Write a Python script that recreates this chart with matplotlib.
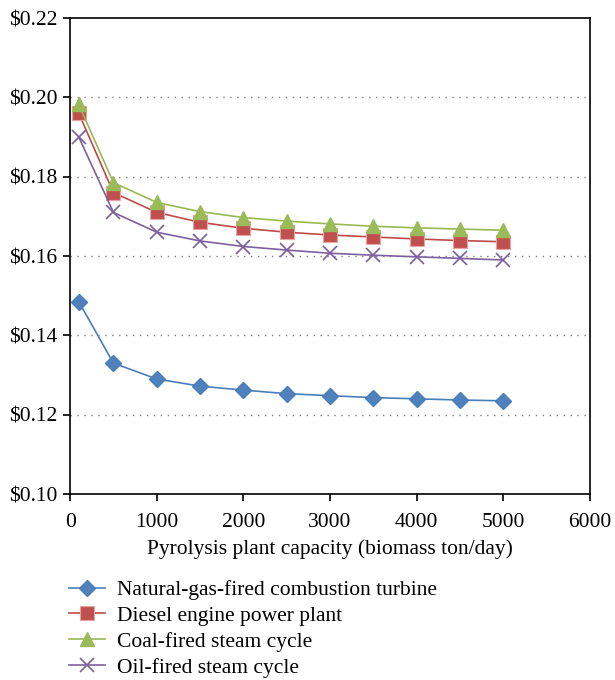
import matplotlib
matplotlib.use("Agg")
import matplotlib.pyplot as plt
from matplotlib import ticker

plt.rcParams['font.family'] = ['Liberation Serif', 'DejaVu Serif']

capacity = [100, 500, 1000, 1500, 2000, 2500, 3000, 3500, 4000, 4500, 5000]

natural_gas = [0.1485, 0.1330, 0.1290, 0.1272, 0.1262, 0.1253, 0.1248, 0.1243, 0.1240, 0.1237, 0.1235]
diesel = [0.1960, 0.1760, 0.1710, 0.1685, 0.1670, 0.1660, 0.1653, 0.1648, 0.1643, 0.1639, 0.1636]
coal = [0.1982, 0.1785, 0.1735, 0.1712, 0.1697, 0.1688, 0.1681, 0.1675, 0.1671, 0.1668, 0.1665]
oil = [0.1900, 0.1710, 0.1660, 0.1638, 0.1624, 0.1615, 0.1607, 0.1602, 0.1598, 0.1594, 0.1590]

labels = ['Natural-gas-fired combustion turbine', 'Diesel engine power plant',
          'Coal-fired steam cycle', 'Oil-fired steam cycle']

fig = plt.figure(figsize=(6.15, 6.8), dpi=100)
ax = fig.add_axes([0.114, 0.2735, 0.845, 0.7])

ax.plot(capacity, natural_gas, color='#4A7EBB', lw=1.2, marker='D', ms=8,
        mfc='#4F81BD', mec='#4A7EBB', label=labels[0], zorder=3)
ax.plot(capacity, diesel, color='#BE4B48', lw=1.2, marker='s', ms=10,
        mfc='#C0504D', mec='#E6A5A3', mew=0.8, label=labels[1], zorder=3)
ax.plot(capacity, coal, color='#98B954', lw=1.2, marker='^', ms=10,
        mfc='#9BBB59', mec='#9BBB59', label=labels[2], zorder=4)
ax.plot(capacity, oil, color='#7D60A0', lw=1.2, marker='x', ms=10, mew=1.2,
        label=labels[3], zorder=3)

ax.set_xlim(0, 6000)
ax.set_ylim(0.10, 0.22)
ax.xaxis.set_major_locator(ticker.MultipleLocator(1000))
ax.yaxis.set_major_locator(ticker.MultipleLocator(0.02))
ax.yaxis.set_major_formatter(ticker.FuncFormatter(lambda v, p: '${:.2f}'.format(v)))

for v in [0.12, 0.14, 0.16, 0.18, 0.20]:
    ax.axhline(v, color='#808080', lw=1.0, ls=(0, (1, 4)), zorder=1)

for s in ax.spines.values():
    s.set_linewidth(1.2)
ax.tick_params(axis='both', direction='out', length=5, width=1.2, labelsize=15.5)
ax.tick_params(axis='x', pad=9)
ax.tick_params(axis='y', pad=4)

ax.set_xlabel('Pyrolysis plant capacity (biomass ton/day)', fontsize=15.5, labelpad=5)

fig.legend(loc='upper left', bbox_to_anchor=(0.112, 0.147), frameon=False,
           fontsize=15.5, handlelength=1.7, handletextpad=0.55,
           labelspacing=0.27, borderaxespad=0, borderpad=0)

fig.savefig('out.png', dpi=100)
